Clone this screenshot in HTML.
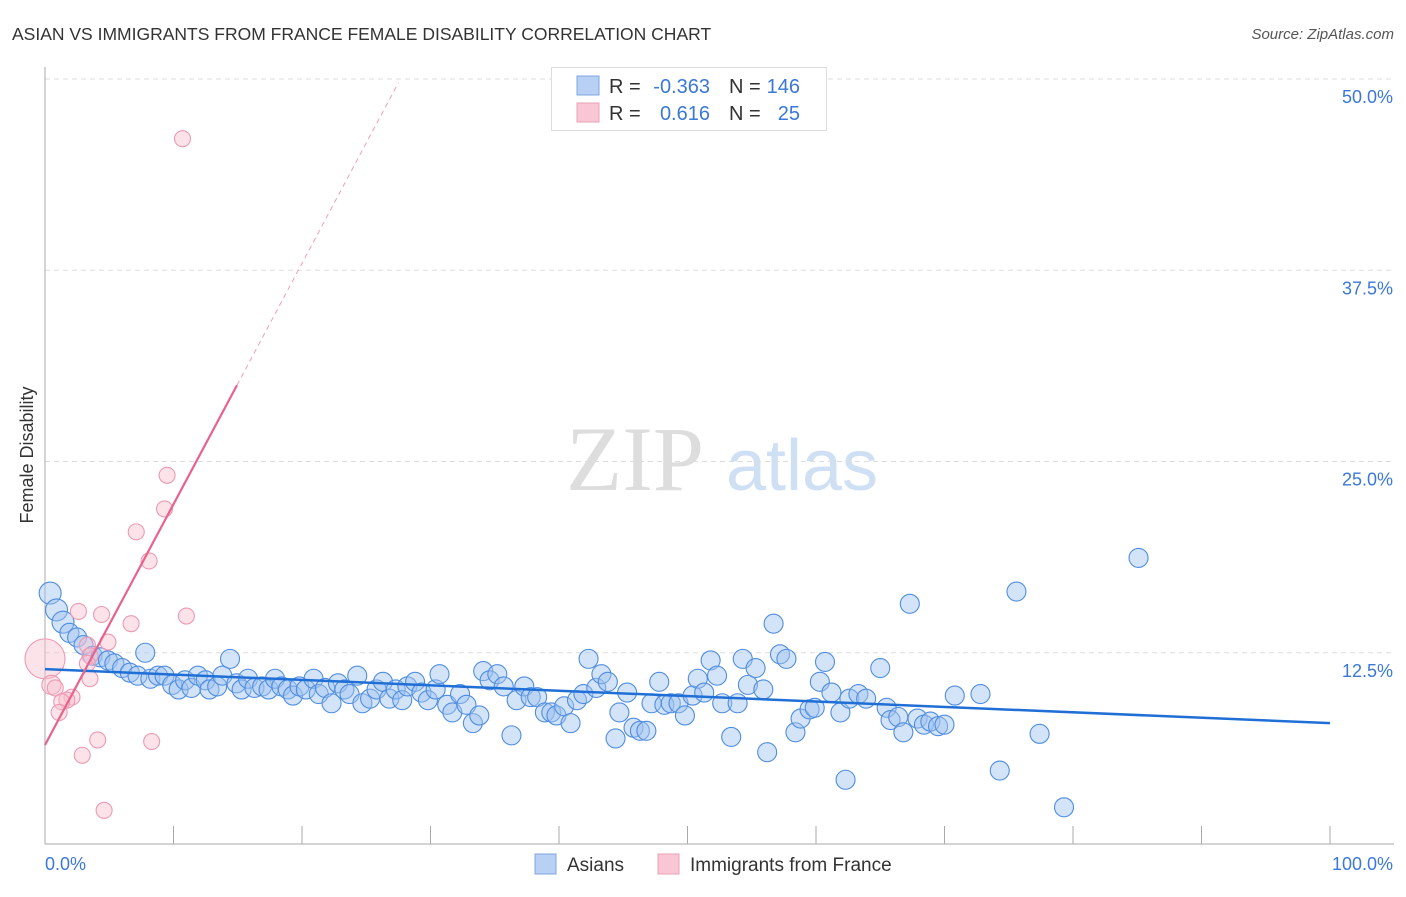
<!DOCTYPE html>
<html><head><meta charset="utf-8"><style>
body{margin:0;background:#fff;font-family:"Liberation Sans",sans-serif;}
svg text{font-family:"Liberation Sans",sans-serif;}
</style></head><body>
<svg id="chart" width="1406" height="892" viewBox="0 0 1406 892">
<text x="12" y="40" font-size="17.5" fill="#333">ASIAN VS IMMIGRANTS FROM FRANCE FEMALE DISABILITY CORRELATION CHART</text>
<text x="1394" y="39" font-size="15" fill="#555" font-style="italic" text-anchor="end">Source: ZipAtlas.com</text>
<g>
<text x="635" y="490" font-size="92" fill="#ddd" font-family="Liberation Serif, serif" text-anchor="middle" style="font-family:'Liberation Serif',serif">ZIP</text>
<text x="802" y="490" font-size="72" fill="#cfe0f5" text-anchor="middle">atlas</text>
</g>
<g id="grid"></g>
<g id="axes"></g>
<g id="marks"></g>
<text transform="translate(33,455) rotate(-90)" font-size="18" fill="#333" text-anchor="middle">Female Disability</text>
<g>
<rect x="551.5" y="67.5" width="275" height="63" fill="#fff" stroke="#ddd"/>
<rect x="577" y="76" width="22" height="19" fill="#b7d0f3" stroke="#7fa6e0"/>
<rect x="577" y="103" width="22" height="19" fill="#f8c6d4" stroke="#eaa0b6"/>
<text x="609" y="93" font-size="20" fill="#333">R = </text><text x="710" y="93" font-size="20" fill="#3b78d8" text-anchor="end">-0.363</text>
<text x="729" y="93" font-size="20" fill="#333">N = </text><text x="800" y="93" font-size="20" fill="#3b78d8" text-anchor="end">146</text>
<text x="609" y="120" font-size="20" fill="#333">R = </text><text x="710" y="120" font-size="20" fill="#3b78d8" text-anchor="end">0.616</text>
<text x="729" y="120" font-size="20" fill="#333">N = </text><text x="800" y="120" font-size="20" fill="#3b78d8" text-anchor="end">25</text>
</g>
<g>
<rect x="535" y="854" width="21" height="20" fill="#b7d0f3" stroke="#7fa6e0"/>
<text x="567" y="871" font-size="19" fill="#333">Asians</text>
<rect x="658" y="854" width="21" height="20" fill="#f8c6d4" stroke="#eaa0b6"/>
<text x="690" y="871" font-size="19" fill="#333">Immigrants from France</text>
</g>
</svg>
<script>
const yTicks=[12.5,25,37.5,50];
const yTickLabels=["12.5%","25.0%","37.5%","50.0%"];
const xTickLabels=["0.0%","100.0%"];
const asianX=[0.4,0.9,1.4,1.9,2.5,3.0,3.7,4.3,4.9,5.4,6.0,6.6,7.2,7.8,8.2,8.8,9.3,9.9,10.4,10.9,11.4,11.9,12.5,12.8,13.4,13.8,14.4,14.9,15.3,15.8,16.3,16.9,17.4,17.9,18.4,18.9,19.3,19.8,20.3,20.9,21.3,21.8,22.3,22.8,23.3,23.7,24.3,24.7,25.3,25.8,26.3,26.8,27.3,27.8,28.2,28.8,29.3,29.8,30.4,30.7,31.3,31.7,32.3,32.8,33.3,33.8,34.1,34.6,35.2,35.7,36.3,36.7,37.3,37.8,38.3,38.9,39.4,39.8,40.4,40.9,41.4,41.9,42.3,42.9,43.3,43.8,44.4,44.7,45.3,45.8,46.3,46.8,47.2,47.8,48.2,48.7,49.3,49.8,50.4,50.8,51.3,51.8,52.3,52.7,53.4,53.9,54.3,54.7,55.3,55.9,56.2,56.7,57.2,57.7,58.4,58.8,59.5,59.9,60.3,60.7,61.2,61.9,62.3,62.6,63.3,63.9,65.0,65.5,65.8,66.4,66.8,67.3,67.9,68.4,68.9,69.5,70.0,70.8,72.8,74.3,75.6,77.4,79.3,85.1];
const asianY=[16.4,15.3,14.5,13.8,13.5,13.0,12.3,12.2,12.0,11.8,11.5,11.2,11.0,12.5,10.8,11.0,11.0,10.4,10.1,10.7,10.2,11.0,10.7,10.1,10.3,11.0,12.1,10.5,10.1,10.8,10.2,10.3,10.1,10.8,10.3,10.1,9.7,10.3,10.1,10.8,9.8,10.2,9.2,10.5,10.1,9.8,11.0,9.2,9.5,10.1,10.6,9.5,10.1,9.4,10.3,10.6,9.9,9.4,10.1,11.1,9.1,8.6,9.8,9.1,7.9,8.4,11.3,10.7,11.1,10.3,7.1,9.4,10.3,9.6,9.6,8.6,8.6,8.4,9.0,7.9,9.4,9.8,12.1,10.2,11.1,10.6,6.9,8.6,9.9,7.6,7.4,7.4,9.2,10.6,9.1,9.2,9.2,8.4,9.7,10.8,9.9,12.0,11.0,9.2,7.0,9.2,12.1,10.4,11.5,10.1,6.0,14.4,12.4,12.1,7.3,8.2,8.8,8.9,10.6,11.9,9.9,8.6,4.2,9.5,9.8,9.5,11.5,8.9,8.1,8.3,7.3,15.7,8.2,7.8,8.0,7.7,7.8,9.7,9.8,4.8,16.5,7.2,2.4,18.7];
const franceX=[10.7,9.5,9.3,7.1,8.1,2.6,4.4,11.0,6.7,4.9,3.3,3.5,0.0,0.5,0.8,3.5,2.1,1.7,1.3,1.1,4.1,8.3,2.9,4.6,3.3];
const franceY=[46.1,24.1,21.9,20.4,18.5,15.2,15.0,14.9,14.4,13.2,13.0,12.3,12.1,10.4,10.2,10.8,9.6,9.4,9.3,8.6,6.8,6.7,5.8,2.2,11.8];
const franceWeight=[1,1,1,1,1,1,1,1,1,1,1,1,2.5,1.2,1,1,1,1,1,1,1,1,1,1,1];
const asianTrend=[11.43,7.9];
const franceTrendStart=6.47, franceTrendSlope=1.574, franceSolidEnd=14.94, franceDashEnd=27.5;

const NS="http://www.w3.org/2000/svg";
const X0=45,X1=1330,Y0=844,Ymax=79;
function sx(v){return X0+(X1-X0)*v/100;}
function sy(v){return Y0-(Y0-Ymax)*v/50;}
function mk(tag,attrs,parent){const e=document.createElementNS(NS,tag);for(const k in attrs)e.setAttribute(k,attrs[k]);parent.appendChild(e);return e;}
const grid=document.getElementById('grid'),axes=document.getElementById('axes'),marks=document.getElementById('marks');
yTicks.forEach((t,i)=>{
  const l=mk('line',{x1:X0,x2:1394,y1:sy(t),y2:sy(t),stroke:'#ddd','stroke-dasharray':'5,4'},grid);
  
  
  const tx=mk('text',{x:1393,y:sy(t)+24,'font-size':18,fill:'#3b78d8','text-anchor':'end'},axes);
  tx.textContent=yTickLabels[i];
  
  
});
const ya=mk('line',{x1:X0,x2:X0,y1:67,y2:Y0,stroke:'#aaa'},axes);


const xa=mk('line',{x1:X0,x2:1394,y1:Y0,y2:Y0,stroke:'#aaa'},axes);


for(let i=0;i<=10;i++){
  const tk=mk('line',{x1:sx(i*10),x2:sx(i*10),y1:826,y2:Y0,stroke:'#aaa'},axes);
  
  
}
[[0,'start',45],[100,'end',1393]].forEach((d,i)=>{
  const t=mk('text',{x:d[2],y:870,'font-size':18,fill:'#3b78d8','text-anchor':d[1]},axes);
  t.textContent=xTickLabels[i];
  
  
});
asianX.forEach((v,i)=>{
  const r=i<3?11:9.5;
  const c=mk('circle',{cx:sx(v),cy:sy(asianY[i]),r:r,fill:'rgba(160,196,240,0.45)',stroke:'#4f8de0','stroke-width':1.1},marks);
  
  
});
franceX.forEach((v,i)=>{
  const c=mk('circle',{cx:sx(v),cy:sy(franceY[i]),r:8*franceWeight[i],fill:'rgba(248,190,206,0.45)',stroke:'#ec9ab2','stroke-width':1.1},marks);
  
  
});
const bt=mk('line',{x1:sx(0),y1:sy(asianTrend[0]),x2:sx(100),y2:sy(asianTrend[1]),stroke:'#1f6fd6','stroke-width':2.5},marks);


const pt=mk('line',{x1:sx(0),y1:sy(franceTrendStart),x2:sx(franceSolidEnd),y2:sy(franceTrendStart+franceTrendSlope*franceSolidEnd),stroke:'#e8628c','stroke-width':2.2},marks);


const pd=mk('line',{x1:sx(franceSolidEnd),y1:sy(franceTrendStart+franceTrendSlope*franceSolidEnd),x2:sx(franceDashEnd),y2:sy(franceTrendStart+franceTrendSlope*franceDashEnd),stroke:'#eea0b8','stroke-width':1,'stroke-dasharray':'5,4'},marks);


</script>
</body></html>
